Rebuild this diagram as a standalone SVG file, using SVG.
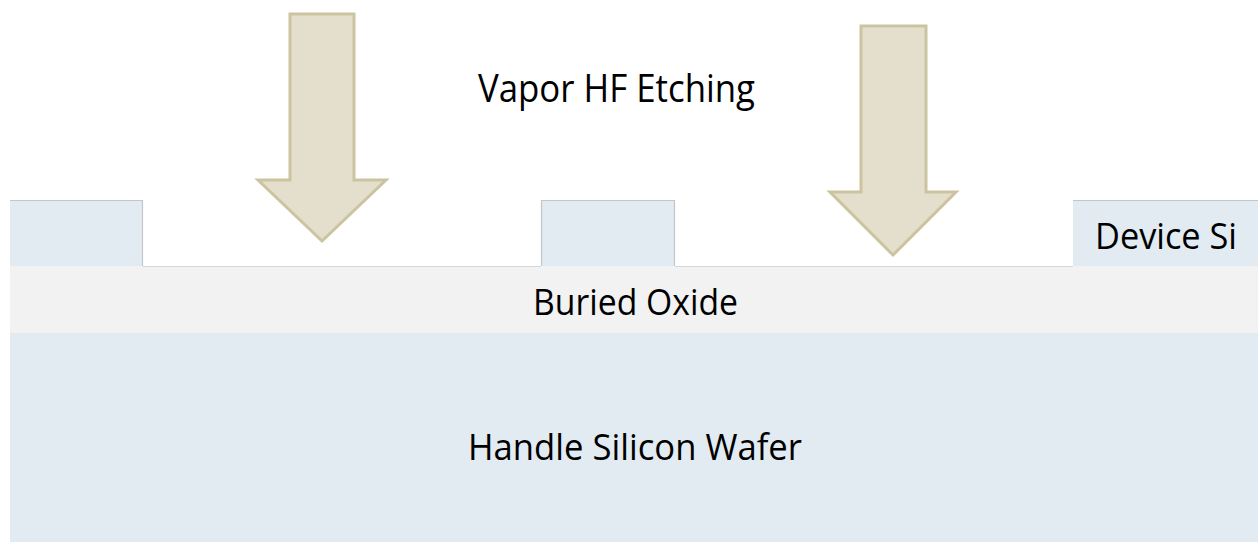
<svg xmlns="http://www.w3.org/2000/svg" width="1258" height="542" viewBox="0 0 1258 542">
<defs>
<style>
.si{fill:#E2EAF2}
.ox{fill:#F2F2F2}
.edge{stroke:#C3C7CC;stroke-width:1.2;fill:none}
.edge2{stroke:#D6D6D6;stroke-width:1.2;fill:none}
.arrow{fill:#E4DECD;stroke:#CCC3A0;stroke-width:3;stroke-linejoin:miter}
.lbl{font-family:"Open Sans","Noto Sans","Liberation Sans",sans-serif;fill:#000}
</style>
</defs>
<rect width="1258" height="542" fill="#FFFFFF"/>
<g id="handle">
<rect class="si" x="10" y="333" width="1248" height="209"/>
<text class="lbl" x="635" y="460" font-size="37" text-anchor="middle" textLength="334" lengthAdjust="spacingAndGlyphs">Handle Silicon Wafer</text>
</g>
<g id="oxide">
<rect class="ox" x="10" y="266" width="1248" height="67"/>
<path class="edge2" d="M143 266.5H541M675 266.5H1073"/>
<text class="lbl" x="635.5" y="315" font-size="37" text-anchor="middle" textLength="205" lengthAdjust="spacingAndGlyphs">Buried Oxide</text>
</g>
<g id="device-left">
<rect class="si" x="10" y="200" width="133" height="66"/>
<path class="edge" d="M10 200.5H142.5V266"/>
</g>
<g id="device-mid">
<rect class="si" x="541" y="200" width="134" height="66"/>
<path class="edge" d="M541.5 266V200.5H674.5V266"/>
</g>
<g id="device-right">
<rect class="si" x="1073" y="200" width="185" height="66"/>
<path class="edge" d="M1073 200.5H1258"/>
<text class="lbl" x="1166" y="249" font-size="36" text-anchor="middle" textLength="142" lengthAdjust="spacingAndGlyphs">Device Si</text>
</g>
<g id="arrow-left">
<polygon class="arrow" points="290,14 354,14 354,180 386,180 322,241 258,180 290,180"/>
</g>
<g id="arrow-right">
<polygon class="arrow" points="861,26 926,26 926,192 956,192 893,255 830,192 861,192"/>
</g>
<g id="title">
<text class="lbl" x="616.5" y="102" font-size="38" text-anchor="middle" textLength="277" lengthAdjust="spacingAndGlyphs">Vapor HF Etching</text>
</g>
</svg>
